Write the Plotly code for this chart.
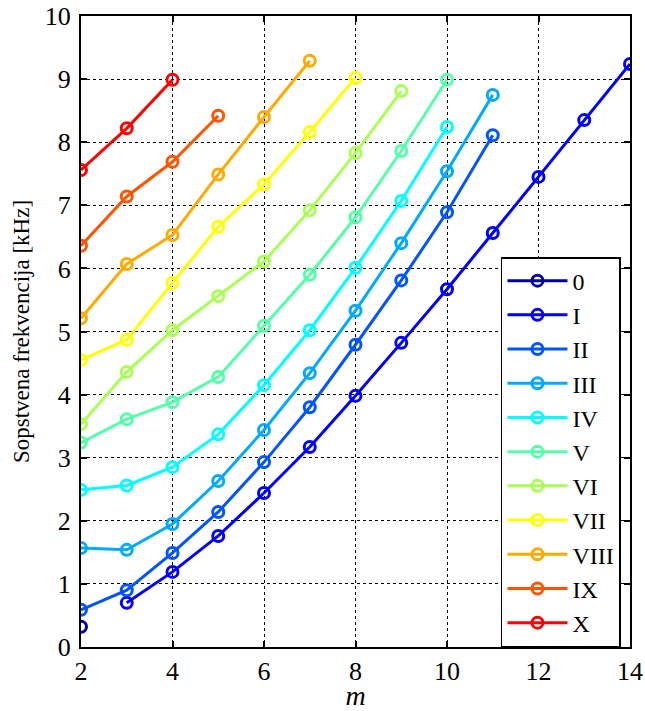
import plotly.graph_objects as go

names = ["0", "I", "II", "III", "IV", "V", "VI", "VII", "VIII", "IX", "X"]
colors = ["rgb(0,0,170)", "rgb(0,0,255)", "rgb(0,85,255)", "rgb(0,170,255)",
          "rgb(0,255,255)", "rgb(85,255,170)", "rgb(170,255,85)", "rgb(255,255,0)",
          "rgb(255,170,0)", "rgb(255,85,0)", "rgb(255,0,0)"]

m_0 = [2]
f_0 = [0.32]
m_I = [3, 4, 5, 6, 7, 8, 9, 10, 11, 12, 13, 14]
f_I = [0.70, 1.19, 1.76, 2.44, 3.17, 3.98, 4.82, 5.67, 6.56, 7.45, 8.35, 9.24]
m_II = [2, 3, 4, 5, 6, 7, 8, 9, 10, 11]
f_II = [0.59, 0.90, 1.49, 2.14, 2.93, 3.80, 4.79, 5.81, 6.89, 8.11]
m_III = [2, 3, 4, 5, 6, 7, 8, 9, 10, 11]
f_III = [1.57, 1.54, 1.95, 2.63, 3.44, 4.34, 5.33, 6.40, 7.54, 8.75]
m_IV = [2, 3, 4, 5, 6, 7, 8, 9, 10]
f_IV = [2.49, 2.56, 2.85, 3.37, 4.15, 5.02, 6.01, 7.07, 8.24]
m_V = [2, 3, 4, 5, 6, 7, 8, 9, 10]
f_V = [3.24, 3.61, 3.88, 4.28, 5.09, 5.90, 6.81, 7.86, 8.99]
m_VI = [2, 3, 4, 5, 6, 7, 8, 9]
f_VI = [3.53, 4.36, 5.02, 5.56, 6.11, 6.92, 7.83, 8.81]
m_VII = [2, 3, 4, 5, 6, 7, 8]
f_VII = [4.55, 4.87, 5.77, 6.66, 7.33, 8.16, 9.02]
m_VIII = [2, 3, 4, 5, 6, 7]
f_VIII = [5.21, 6.07, 6.53, 7.49, 8.40, 9.29]
m_IX = [2, 3, 4, 5]
f_IX = [6.36, 7.14, 7.69, 8.42]
m_X = [2, 3, 4]
f_X = [7.56, 8.22, 8.99]

series_m = [m_0, m_I, m_II, m_III, m_IV, m_V, m_VI, m_VII, m_VIII, m_IX, m_X]
series_f = [f_0, f_I, f_II, f_III, f_IV, f_V, f_VI, f_VII, f_VIII, f_IX, f_X]

x_ticks = [2, 4, 6, 8, 10, 12, 14]
y_ticks = [0, 1, 2, 3, 4, 5, 6, 7, 8, 9, 10]

FONT = "Liberation Serif"

fig = go.Figure()
for name, col, xs, ys in zip(names, colors, series_m, series_f):
    fig.add_trace(go.Scatter(
        x=xs, y=ys, name=name, mode="lines+markers",
        line=dict(color=col, width=3),
        marker=dict(symbol="circle-open", size=11, color=col, line=dict(width=3, color=col)),
    ))

axis_common = dict(
    showline=True, linecolor="black", linewidth=2, mirror="ticks",
    ticks="inside", ticklen=6, tickcolor="black", tickwidth=1.5,
    showgrid=True, gridcolor="black", gridwidth=1, griddash="dot",
    zeroline=False, automargin=False,
    tickfont=dict(family=FONT, size=26, color="black"),
)

fig.update_xaxes(range=[2, 14], tickvals=x_ticks, ticktext=[str(v) for v in x_ticks],
                 title=dict(text="<i>m</i>", font=dict(family=FONT, size=28, color="black"), standoff=8),
                 **axis_common)
fig.update_yaxes(range=[0, 10], tickvals=y_ticks, ticktext=[str(v) for v in y_ticks],
                 ticklabelstandoff=3,
                 title=dict(text="Sopstvena frekvencija [kHz]", font=dict(family=FONT, size=23, color="black"), standoff=9),
                 **axis_common)

fig.update_layout(
    width=645, height=711,
    margin=dict(l=81, r=15, t=16, b=64),
    plot_bgcolor="white", paper_bgcolor="white",
    font=dict(family=FONT, color="black"),
    legend=dict(x=0.765, y=0.618, xanchor="left", yanchor="top",
                bgcolor="white", bordercolor="black", borderwidth=1.5,
                font=dict(family=FONT, size=24, color="black"),
                itemwidth=60),
)

fig.write_html("out.html", config={"displayModeBar": False},
               post_script="document.body.style.margin='0';document.body.style.overflow='hidden';")
